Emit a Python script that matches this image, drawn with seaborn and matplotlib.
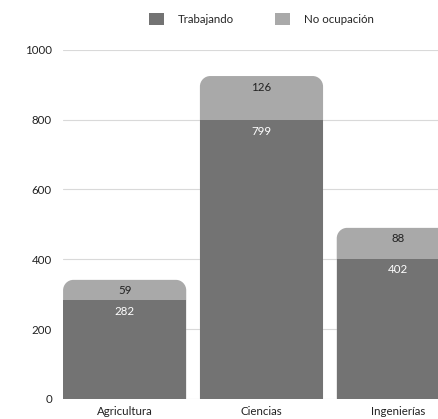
import numpy as np
import pandas as pd
import matplotlib
matplotlib.use("Agg")
import matplotlib.pyplot as plt
import seaborn as sns
from matplotlib.path import Path
from matplotlib.patches import PathPatch, Patch

categories = ["Agricultura", "Ciencias", "Ingenierías"]
trabajando = [282, 799, 402]
no_ocupacion = [59, 126, 88]
series_names = ["Trabajando", "No ocupación"]
yticks = [0, 200, 400, 600, 800, 1000]

dark = "#737373"
light = "#a9a9a9"
fs = 8.3

sns.set_theme(style="white")
plt.rcParams["font.family"] = ["Lato", "DejaVu Sans"]

df = pd.DataFrame({"cat": categories, "trab": trabajando, "noc": no_ocupacion})
df["total"] = df["trab"] + df["noc"]

fig = plt.figure(figsize=(4.38, 4.19), dpi=100)
ax = fig.add_axes([0.144, 0.048, 0.856, 0.833])

sns.barplot(data=df, x="cat", y="total", color=light, saturation=1, width=0.9,
            linewidth=0, edgecolor="none", ax=ax, zorder=2)
n_light = len(ax.patches)
sns.barplot(data=df, x="cat", y="trab", color=dark, saturation=1, width=0.9,
            linewidth=0, edgecolor="none", ax=ax, zorder=3)

ax.set_xlim(-0.45, 2.29)
ax.set_ylim(0, 1000)

# round the top corners of the stacked bars
rx, ry = 0.075, 30
for p in list(ax.patches[:n_light]):
    x0, y0 = p.get_x(), p.get_y()
    w, h = p.get_width(), p.get_height()
    x1, y1 = x0 + w, y0 + h
    k = 0.45
    verts = [(x0, y0), (x0, y1 - ry),
             (x0, y1 - ry * k), (x0 + rx * k, y1), (x0 + rx, y1),
             (x1 - rx, y1),
             (x1 - rx * k, y1), (x1, y1 - ry * k), (x1, y1 - ry),
             (x1, y0), (x0, y0)]
    codes = [Path.MOVETO, Path.LINETO,
             Path.CURVE4, Path.CURVE4, Path.CURVE4,
             Path.LINETO,
             Path.CURVE4, Path.CURVE4, Path.CURVE4,
             Path.LINETO, Path.CLOSEPOLY]
    ax.add_patch(PathPatch(Path(verts, codes), facecolor=light, edgecolor="none", zorder=2))
    p.remove()

for i, (t, n) in enumerate(zip(trabajando, no_ocupacion)):
    ax.annotate(str(n), (i, t + n), xytext=(0, -8), textcoords="offset points",
                ha="center", va="center", fontsize=fs, color="#222222", zorder=5)
    ax.annotate(str(t), (i, t), xytext=(0, -8), textcoords="offset points",
                ha="center", va="center", fontsize=fs, color="white", zorder=5)

ax.set_yticks(yticks)
ax.yaxis.grid(True, color="#d9d9d9", linewidth=0.8, zorder=0)
ax.set_axisbelow(True)
ax.set_xlabel("")
ax.set_ylabel("")
ax.tick_params(axis="both", length=0, labelsize=fs, colors="#222222")
ax.tick_params(axis="y", pad=8)
ax.tick_params(axis="x", pad=5)
for s in ax.spines.values():
    s.set_visible(False)

handles = [Patch(facecolor=dark, edgecolor="none"), Patch(facecolor=light, edgecolor="none")]
fig.legend(handles, series_names, loc="center", bbox_to_anchor=(0.597, 0.955), ncol=2,
           frameon=False, fontsize=fs, handlelength=1.3, handleheight=1.3,
           handletextpad=1.2, columnspacing=3.6)

fig.savefig("out.png", dpi=100)
